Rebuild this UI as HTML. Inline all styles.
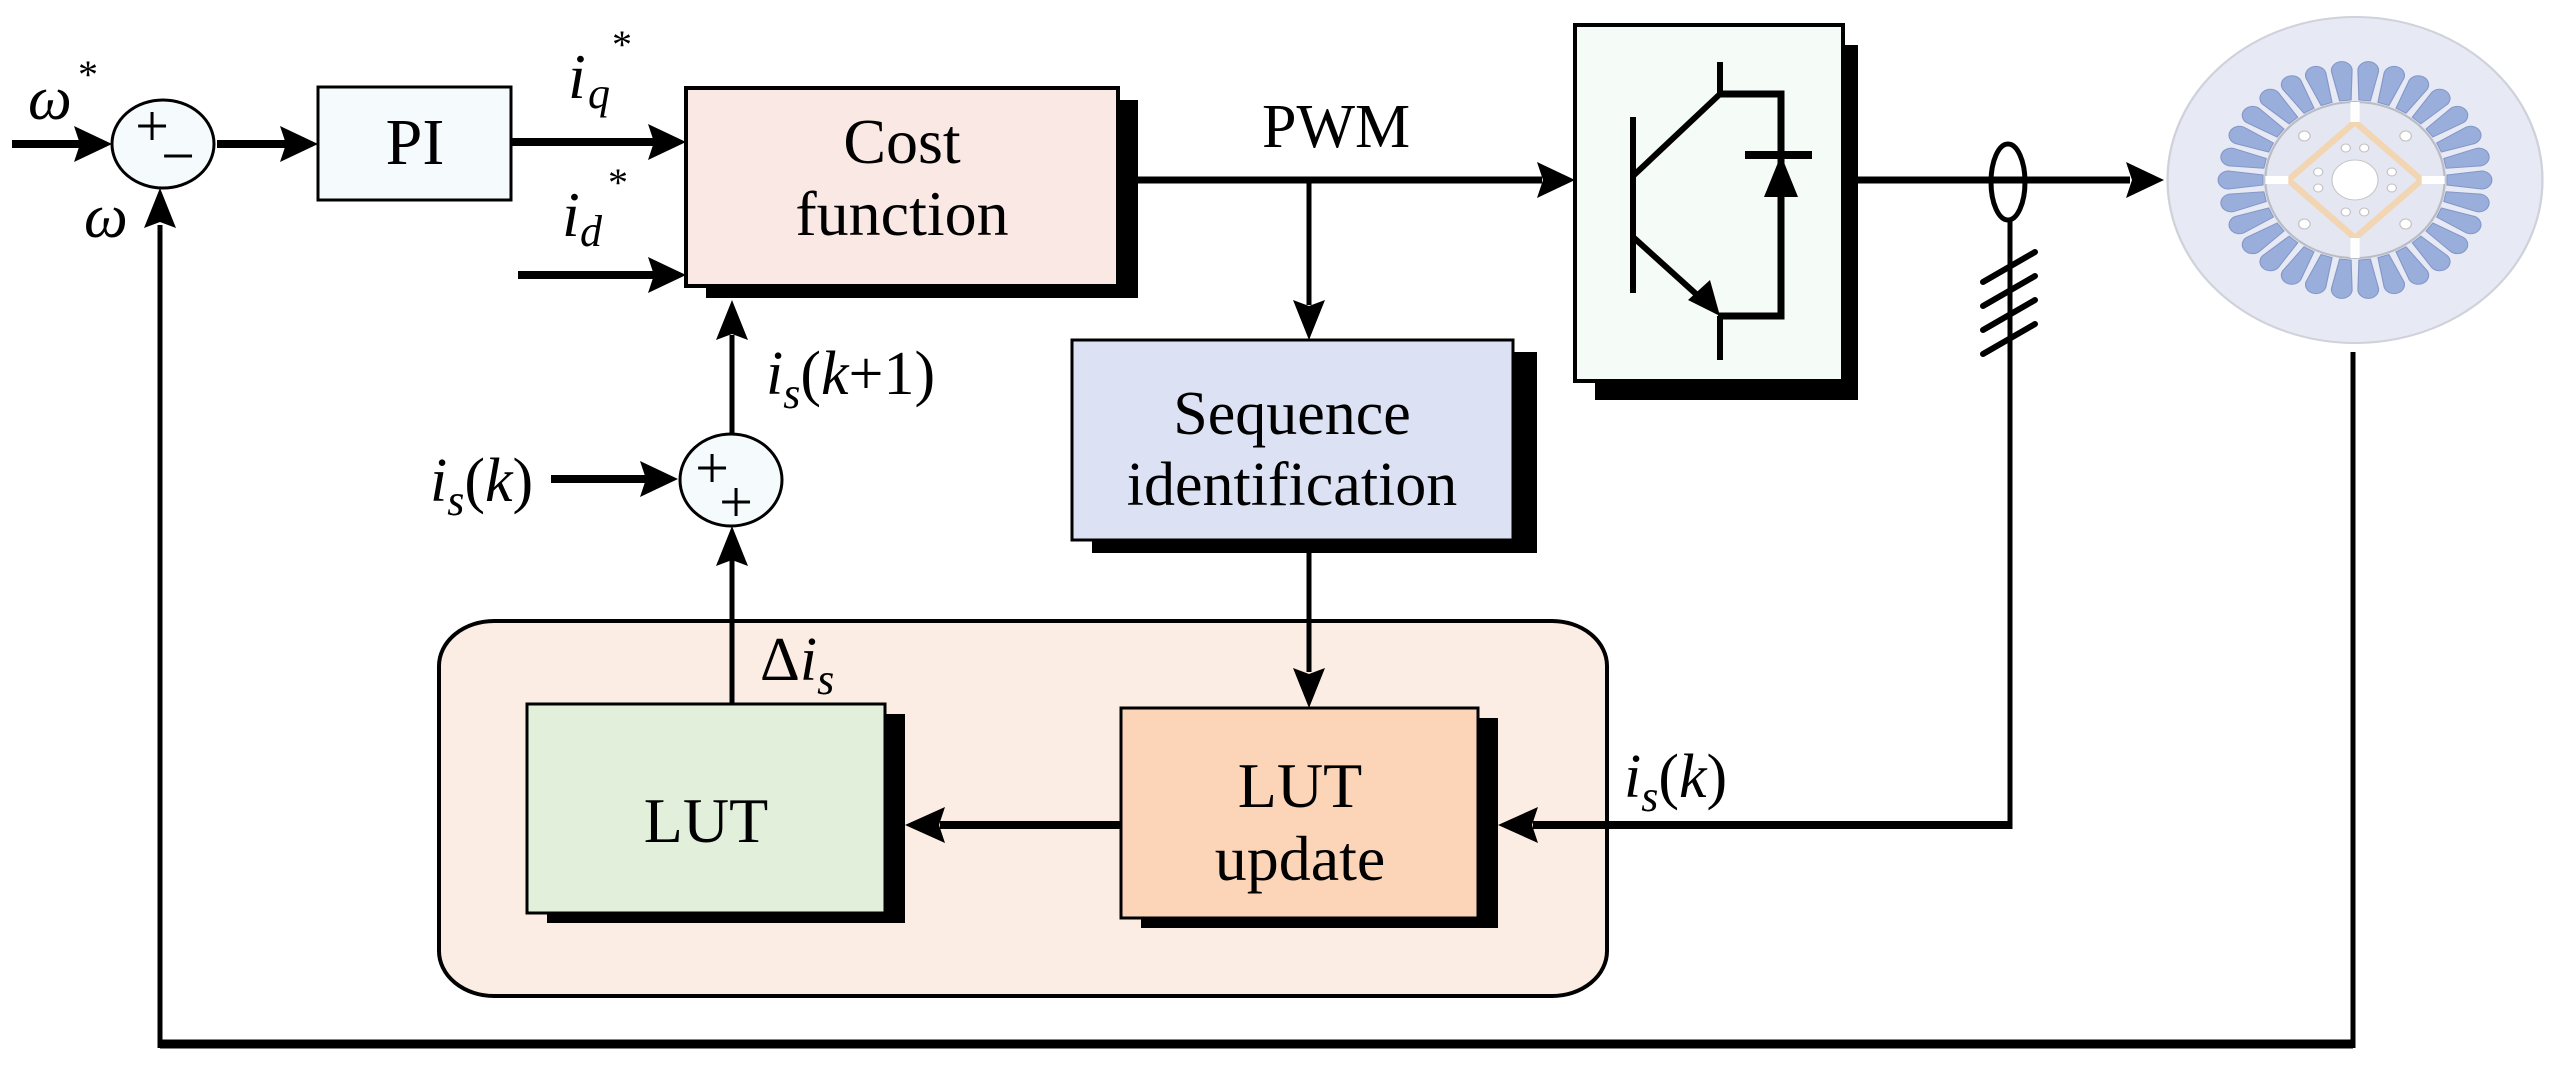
<!DOCTYPE html>
<html><head><meta charset="utf-8"><style>
html,body{margin:0;padding:0;background:#fff;}
svg{display:block;}
text{font-family:"Liberation Serif",serif;fill:#000;}
</style></head><body>
<svg width="2565" height="1071" viewBox="0 0 2565 1071" xmlns="http://www.w3.org/2000/svg">
<defs>
<path id="tooth" d="M-5,-80 L-9,-110 A9,9 0 0 1 9,-110 L5,-80 Z" fill="#9aaedb" stroke="#8497c8" stroke-width="1"/>
</defs>

<!-- container -->
<rect x="439" y="621" width="1168" height="375" rx="55" ry="45" fill="#fcede4" stroke="#000" stroke-width="4"/>

<!-- shadows -->
<rect x="706" y="100" width="432" height="198" fill="#000"/>
<rect x="1092" y="352" width="445" height="201" fill="#000"/>
<rect x="1595" y="45" width="263" height="355" fill="#000"/>
<rect x="547" y="714" width="358" height="209" fill="#000"/>
<rect x="1141" y="718" width="357" height="210" fill="#000"/>

<!-- boxes -->
<rect x="318" y="87" width="193" height="113" fill="#f5fbfd" stroke="#000" stroke-width="3"/>
<rect x="686" y="88" width="432" height="198" fill="#fae8e4" stroke="#000" stroke-width="4"/>
<rect x="1072" y="340" width="441" height="200" fill="#dce2f3" stroke="#000" stroke-width="3"/>
<rect x="1575" y="25" width="268" height="356" fill="#f5fcf8" stroke="#000" stroke-width="4"/>
<rect x="527" y="704" width="358" height="209" fill="#e2efdb" stroke="#000" stroke-width="3"/>
<rect x="1121" y="708" width="357" height="210" fill="#fcd5b8" stroke="#000" stroke-width="3"/>

<!-- box texts -->
<text x="415" y="164" font-size="66" text-anchor="middle">PI</text>
<text x="902" y="163" font-size="64" text-anchor="middle">Cost</text>
<text x="902" y="235" font-size="64" text-anchor="middle">function</text>
<text x="1292" y="434" font-size="62" text-anchor="middle">Sequence</text>
<text x="1292" y="505" font-size="62" text-anchor="middle">identification</text>
<text x="706" y="842" font-size="64" text-anchor="middle">LUT</text>
<text x="1300" y="807" font-size="64" text-anchor="middle">LUT</text>
<text x="1300" y="880" font-size="64" text-anchor="middle">update</text>
<text x="1262" y="147" font-size="62">PWM</text>

<!-- summing junctions -->
<ellipse cx="163" cy="144" rx="51" ry="44" fill="#f5fbfd" stroke="#000" stroke-width="3"/>
<text x="152" y="146" font-size="60" text-anchor="middle">+</text>
<text x="178" y="176" font-size="60" text-anchor="middle">−</text>
<ellipse cx="731" cy="480" rx="51" ry="46" fill="#f5fbfd" stroke="#000" stroke-width="3"/>
<text x="712" y="488" font-size="60" text-anchor="middle">+</text>
<text x="736" y="522" font-size="60" text-anchor="middle">+</text>

<!-- connectors -->
<g stroke="#000" fill="none" stroke-linecap="butt">
  <line x1="12" y1="144" x2="80" y2="144" stroke-width="8"/>
  <line x1="217" y1="144" x2="286" y2="144" stroke-width="8"/>
  <line x1="511" y1="142" x2="654" y2="142" stroke-width="8"/>
  <line x1="518" y1="275" x2="654" y2="275" stroke-width="8"/>
  <line x1="1118" y1="180" x2="1542" y2="180" stroke-width="7"/>
  <line x1="1309" y1="180" x2="1309" y2="305" stroke-width="5"/>
  <line x1="732" y1="434" x2="732" y2="335" stroke-width="5"/>
  <line x1="551" y1="479" x2="646" y2="479" stroke-width="8"/>
  <line x1="732" y1="704" x2="732" y2="560" stroke-width="5"/>
  <line x1="1309" y1="553" x2="1309" y2="672" stroke-width="5"/>
  <line x1="1121" y1="825" x2="940" y2="825" stroke-width="8"/>
  <line x1="2010" y1="825" x2="1533" y2="825" stroke-width="8"/>
  <line x1="2010" y1="221" x2="2010" y2="829" stroke-width="5"/>
  <line x1="1858" y1="180" x2="2130" y2="180" stroke-width="7"/>
  <line x1="160" y1="1044" x2="2353" y2="1044" stroke-width="9"/>
  <line x1="160" y1="1048" x2="160" y2="225" stroke-width="5"/>
  <line x1="2353" y1="352" x2="2353" y2="1048" stroke-width="5"/>
</g>
<!-- arrowheads -->
<g fill="#000">
  <polygon points="112,144 74,126 80,144 74,162"/>
  <polygon points="318,144 280,126 286,144 280,162"/>
  <polygon points="686,142 648,124 654,142 648,160"/>
  <polygon points="686,275 648,257 654,275 648,293"/>
  <polygon points="1575,180 1537,162 1543,180 1537,198"/>
  <polygon points="1309,340 1293,300 1309,306 1325,300"/>
  <polygon points="732,300 716,340 732,334 748,340"/>
  <polygon points="678,479 640,461 646,479 640,497"/>
  <polygon points="732,526 716,566 732,560 748,566"/>
  <polygon points="1309,708 1293,668 1309,674 1325,668"/>
  <polygon points="905,825 945,807 939,825 945,843"/>
  <polygon points="1498,825 1538,807 1532,825 1538,843"/>
  <polygon points="2164,180 2126,162 2132,180 2126,198"/>
  <polygon points="160,188 144,228 160,222 176,228"/>
</g>

<!-- labels -->
<text x="28" y="119" font-size="62" font-style="italic">ω</text>
<text x="78" y="88" font-size="40">*</text>
<text x="84" y="237" font-size="62" font-style="italic">ω</text>
<text x="568" y="98" font-size="64" font-style="italic">i</text>
<text x="588" y="108" font-size="44" font-style="italic">q</text>
<text x="612" y="58" font-size="40">*</text>
<text x="562" y="236" font-size="64" font-style="italic">i</text>
<text x="580" y="246" font-size="44" font-style="italic">d</text>
<text x="608" y="196" font-size="40">*</text>
<text x="766" y="394" font-size="62"><tspan font-style="italic">i</tspan><tspan font-size="44" font-style="italic" dy="14">s</tspan><tspan dy="-14">(</tspan><tspan font-style="italic">k</tspan>+1)</text>
<text x="430" y="501" font-size="62"><tspan font-style="italic">i</tspan><tspan font-size="44" font-style="italic" dy="14">s</tspan><tspan dy="-14">(</tspan><tspan font-style="italic">k</tspan>)</text>
<text x="760" y="680" font-size="62">Δ<tspan font-style="italic">i</tspan><tspan font-size="44" font-style="italic" dy="14">s</tspan></text>
<text x="1624" y="797" font-size="62"><tspan font-style="italic">i</tspan><tspan font-size="44" font-style="italic" dy="14">s</tspan><tspan dy="-14">(</tspan><tspan font-style="italic">k</tspan>)</text>

<!-- IGBT + diode -->
<g stroke="#000" stroke-width="6" fill="none">
  <line x1="1633" y1="117" x2="1633" y2="293"/>
  <line x1="1633" y1="176" x2="1720" y2="94"/>
  <line x1="1720" y1="62" x2="1720" y2="94"/>
  <polyline points="1718,94 1781,94 1781,316 1718,316" stroke-width="7"/>
  <line x1="1633" y1="237" x2="1706" y2="303"/>
  <line x1="1720" y1="316" x2="1720" y2="360"/>
  <line x1="1745" y1="155" x2="1812" y2="155" stroke-width="8"/>
</g>
<polygon points="1720,316 1688,300 1710,280" fill="#000"/>
<polygon points="1781,155 1764,197 1798,197" fill="#000"/>

<!-- current sensor -->
<ellipse cx="2008" cy="182" rx="17" ry="38" fill="none" stroke="#000" stroke-width="5"/>
<g stroke="#000" stroke-width="6" stroke-linecap="round">
  <line x1="1983" y1="282" x2="2035" y2="252"/>
  <line x1="1983" y1="306" x2="2035" y2="276"/>
  <line x1="1983" y1="330" x2="2035" y2="300"/>
  <line x1="1983" y1="354" x2="2035" y2="324"/>
</g>

<!-- motor -->
<g transform="translate(2355,180) scale(1.15,1)">
  <circle r="163" fill="#e7eaf4" stroke="#cfd2da" stroke-width="2"/>
  <g>
    <use href="#tooth" transform="rotate(6)"/><use href="#tooth" transform="rotate(18)"/><use href="#tooth" transform="rotate(30)"/>
    <use href="#tooth" transform="rotate(42)"/><use href="#tooth" transform="rotate(54)"/><use href="#tooth" transform="rotate(66)"/>
    <use href="#tooth" transform="rotate(78)"/><use href="#tooth" transform="rotate(90)"/><use href="#tooth" transform="rotate(102)"/>
    <use href="#tooth" transform="rotate(114)"/><use href="#tooth" transform="rotate(126)"/><use href="#tooth" transform="rotate(138)"/>
    <use href="#tooth" transform="rotate(150)"/><use href="#tooth" transform="rotate(162)"/><use href="#tooth" transform="rotate(174)"/>
    <use href="#tooth" transform="rotate(186)"/><use href="#tooth" transform="rotate(198)"/><use href="#tooth" transform="rotate(210)"/>
    <use href="#tooth" transform="rotate(222)"/><use href="#tooth" transform="rotate(234)"/><use href="#tooth" transform="rotate(246)"/>
    <use href="#tooth" transform="rotate(258)"/><use href="#tooth" transform="rotate(270)"/><use href="#tooth" transform="rotate(282)"/>
    <use href="#tooth" transform="rotate(294)"/><use href="#tooth" transform="rotate(306)"/><use href="#tooth" transform="rotate(318)"/>
    <use href="#tooth" transform="rotate(330)"/><use href="#tooth" transform="rotate(342)"/><use href="#tooth" transform="rotate(354)"/>
  </g>
  <circle r="78" fill="#e4e7f1" stroke="#b9bcc4" stroke-width="2"/>
  <polygon points="0,-58 58,0 0,58 -58,0" fill="none" stroke="#f2d6b4" stroke-width="6"/>
  <g stroke="#ffffff" stroke-width="8">
    <line x1="0" y1="-78" x2="0" y2="-58"/><line x1="0" y1="78" x2="0" y2="58"/>
    <line x1="-78" y1="0" x2="-58" y2="0"/><line x1="78" y1="0" x2="58" y2="0"/>
  </g>
  <circle r="20" fill="#fff" stroke="#c8c8c8" stroke-width="1"/>
  <g fill="#fff" stroke="#c0c0c0" stroke-width="1">
    <circle cx="-44" cy="-44" r="5"/><circle cx="44" cy="-44" r="5"/><circle cx="-44" cy="44" r="5"/><circle cx="44" cy="44" r="5"/>
    <circle cx="-8" cy="-32" r="4"/><circle cx="8" cy="-32" r="4"/><circle cx="-8" cy="32" r="4"/><circle cx="8" cy="32" r="4"/>
    <circle cx="-32" cy="-8" r="4"/><circle cx="-32" cy="8" r="4"/><circle cx="32" cy="-8" r="4"/><circle cx="32" cy="8" r="4"/>
  </g>
</g>
</svg>
</body></html>
